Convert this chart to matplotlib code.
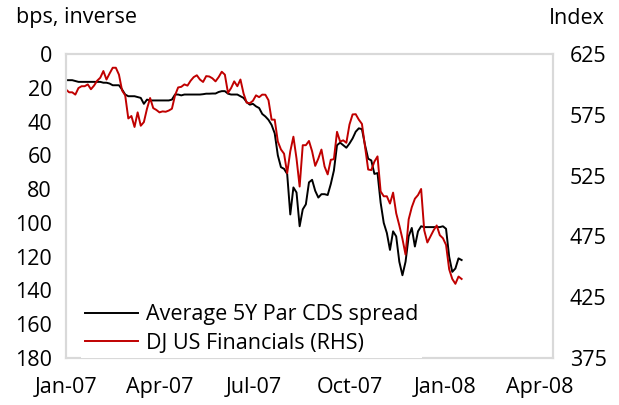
import matplotlib
matplotlib.use('Agg')
import matplotlib.pyplot as plt
import pandas as pd

plt.rcParams['font.family'] = ['Open Sans', 'DejaVu Sans']

start_date = '2007-01-01'
sample_step = '3D'

cds_spread = [
    15.5, 15.5, 15.5, 16, 16.5, 16.5, 16.5, 16.5, 16.5, 16.5,
    16.5, 16.5, 17, 17, 17.5, 18.5, 18.5, 18.5, 21, 24,
    25, 25, 25, 25.5, 26, 29.5, 27, 27.5, 27.5, 27.5,
    27.5, 27.5, 27.5, 27.5, 27, 24, 24, 24.5, 24, 24,
    24, 24, 24, 24, 23.8, 23.5, 23.5, 23.4, 23.4, 22.5,
    22, 22, 23.5, 24, 24, 24, 25, 26, 28.5, 30,
    29.5, 31, 32, 35.5, 37, 39, 42, 47, 60, 67,
    68, 71, 95, 79, 82, 102, 92, 89, 76, 74.5,
    81, 85, 83, 83, 83.5, 77, 69, 54, 52.5, 54,
    55.5, 53, 50, 46, 44, 44.5, 54, 62, 63, 71,
    70.5, 88, 100, 106, 116, 105, 108, 123, 131, 123,
    108, 103, 114, 105, 102, 102.5, 102.5, 102.5, 102.5, 102.5,
    102.5, 102, 103.5, 120, 129, 127, 121, 122,
]

dj_financials = [
    595.8, 593.5, 593.5, 591.6, 597, 598.5, 598.5, 600, 596, 599,
    603, 605.5, 611, 604, 609, 613.7, 613.7, 608, 595, 591,
    572, 574, 565, 577, 566, 569, 580, 588.8, 580.5, 579,
    577, 577.8, 577.5, 578.5, 580, 591, 597.5, 598, 600, 599,
    603, 606, 607.5, 604, 602, 606.8, 606.5, 605, 602.5, 606,
    610.4, 608, 593, 597, 602.5, 598.5, 604, 592.5, 585, 584.5,
    586.5, 591, 589.5, 591.6, 591.5, 587, 571, 571, 553, 546.5,
    543, 527, 545, 557, 539, 516, 550, 550, 553.5, 545,
    533, 539, 546.4, 532.5, 526, 538, 538.5, 561, 553, 554,
    552, 567, 575.3, 575.5, 571, 567.5, 549, 530, 529.5, 536.5,
    540.8, 512, 508, 508, 502, 511, 494, 484, 473, 460,
    489, 499, 506, 509, 514, 480, 470, 475, 480, 484,
    476, 473.5, 468, 448, 440, 436, 442, 440,
]

x_tick_dates = ['2007-01-01', '2007-04-01', '2007-07-01', '2007-10-01', '2008-01-01', '2008-04-01']
x_tick_labels = ['Jan-07', 'Apr-07', 'Jul-07', 'Oct-07', 'Jan-08', 'Apr-08']
left_ticks = [0, 20, 40, 60, 80, 100, 120, 140, 160, 180]
right_ticks = [375, 425, 475, 525, 575, 625]
series_names = ['Average 5Y Par CDS spread', 'DJ US Financials (RHS)']

dates = pd.date_range(start_date, periods=len(cds_spread), freq=sample_step)

# ---- figure ----
W, H = 619, 405
fig = plt.figure(figsize=(W / 100, H / 100), dpi=100)
L, R, T, B = 66, 553, 54, 358
ax = fig.add_axes([L / W, 1 - B / H, (R - L) / W, (B - T) / H])
ax2 = ax.twinx()

red = '#C00000'
l1, = ax.plot(dates, cds_spread, color='black', lw=1.4)
l2, = ax2.plot(dates, dj_financials, color=red, lw=1.4)

ax.set_ylim(180, 0)
ax.set_yticks(left_ticks)
ax2.set_ylim(375, 625)
ax2.set_yticks(right_ticks)
ax.set_xlim(pd.Timestamp('2007-01-01'), pd.Timestamp('2008-04-14'))
ax.set_xticks(pd.to_datetime(x_tick_dates))
ax.set_xticklabels(x_tick_labels)

fs = 15.5
for a in (ax, ax2):
    for s in a.spines.values():
        s.set_color('#D9D9D9')
        s.set_linewidth(1.5)
    a.tick_params(length=0, labelsize=fs, colors='black')
ax.tick_params(axis='y', pad=10)
ax2.tick_params(axis='y', pad=12)
ax.tick_params(axis='x', pad=14)

fig.text(16 / W, 1 - 18 / H, 'bps, inverse', fontsize=fs, ha='left', va='center')
fig.text(605 / W, 1 - 18 / H, 'Index', fontsize=fs, ha='right', va='center')

leg = ax2.legend([l1, l2], series_names, loc='upper left',
                 bbox_to_anchor=((81 - L) / (R - L), (B - 300) / (B - T)),
                 borderaxespad=0, fontsize=fs, frameon=True, fancybox=False,
                 handlelength=2.45, handletextpad=0.35, labelspacing=0.35,
                 borderpad=0.2)
leg.get_frame().set_facecolor('white')
leg.get_frame().set_edgecolor('none')
leg.get_frame().set_alpha(1)

fig.savefig('out.png', dpi=100)
